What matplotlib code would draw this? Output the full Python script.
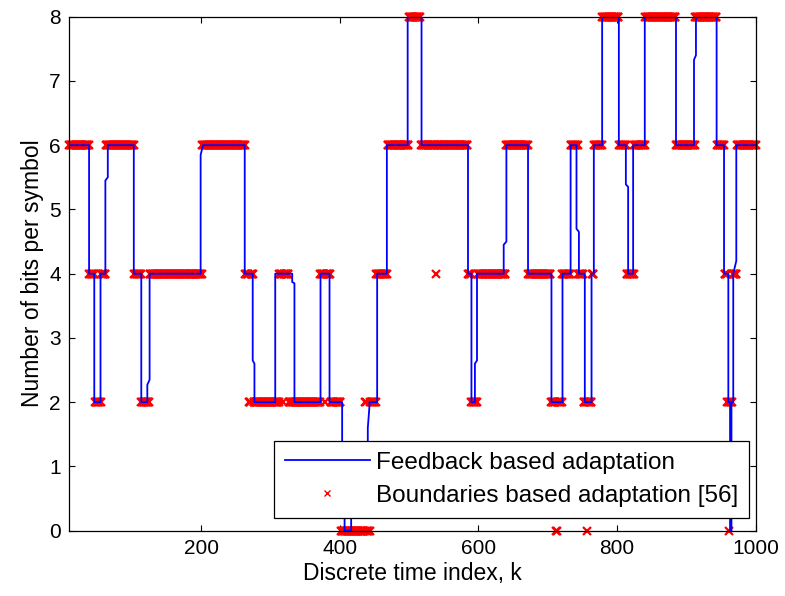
import numpy as np
import matplotlib
matplotlib.use("Agg")
import matplotlib.pyplot as plt
from matplotlib.lines import Line2D

plt.rcParams['font.family'] = ['Liberation Sans', 'DejaVu Sans']

# feedback based adaptation: breakpoints of the bit-loading trace
blue_k = [10, 38.5, 38.5, 46, 46, 55, 55, 62, 62, 65.5, 65.5,
          103, 103, 113.8, 113.8, 122.5, 122.5, 125.8, 125.8,
          199.4, 199.4, 202.9,
          263, 263, 274.5, 274.5, 277, 277,
          307, 307, 331.5, 331.5, 334.7, 334.7,
          372.3, 372.3, 385.3, 385.3,
          403.5, 403.5, 407, 407, 416.5, 416.5, 440.5, 440.5, 443, 443,
          454, 454, 468, 468, 498, 498, 518, 518,
          585, 585, 590, 590, 595, 595, 598, 598,
          636.5, 636.5, 640.4, 640.4, 671.6, 671.6, 705.4, 705.4, 721.3, 721.3, 733, 733,
          741.5, 741.5, 745, 745, 753.5, 753.5, 763.2, 763.2, 766.5, 766.5,
          778.5, 778.5, 802.6, 802.6, 812.7, 812.7, 816, 816, 823.2, 823.2,
          840, 840, 885, 885, 911, 911, 913.8, 913.8, 943.6, 943.6,
          954.3, 954.3, 960.5, 960.5, 963, 963, 965, 965, 967.6, 967.6, 972, 972, 1000]
blue_bits = [6, 6, 4, 4, 2, 2, 4, 4, 5.45, 5.5, 6,
             6, 4, 4, 2, 2, 2.27, 2.35, 4,
             4, 5.85, 6,
             6, 4, 4, 2.65, 2.6, 2,
             2, 4, 4, 3.87, 3.85, 2,
             2, 4, 4, 2,
             2, 1.0, 1.0, 0, 0, 1.0, 1.0, 1.6, 1.95, 2,
             2, 4, 4, 6, 6, 8, 8, 6,
             6, 4, 4, 2, 2, 2.6, 2.65, 4,
             4, 4.45, 4.5, 6, 6, 4, 4, 2, 2, 4, 4, 6,
             6, 4.7, 4.65, 4, 4, 2, 2, 4, 4, 6,
             6, 8, 8, 6, 6, 5.39, 5.35, 4, 4, 6,
             6, 8, 8, 6, 6, 7.33, 7.4, 8, 8, 6,
             6, 4, 4, 2, 2, 0, 0, 2, 2, 4, 4.2, 6, 6]

# boundaries based adaptation [56]: level held from each switch index on
red_switch_k = [10, 39, 47, 56, 63, 104, 114, 126, 202, 264, 269, 272, 276,
                313, 318, 319, 327, 372, 379, 380, 387, 402, 437, 439, 444,
                453, 469, 500, 517, 539, 540, 585, 590, 599, 640, 672, 705,
                712, 714, 721, 733, 744, 752, 757, 758, 764, 767, 779, 803,
                814, 825, 841, 885, 913, 944, 955, 959, 962, 963, 967, 973]
red_bits = [6, 4, 2, 4, 6, 4, 2, 4, 6, 4, 2, 4, 2,
            4, 2, 4, 2, 4, 2, 4, 2, 0, 2, 0, 2,
            4, 6, 8, 6, 4, 6, 4, 2, 4, 6, 4, 2,
            0, 2, 4, 6, 4, 2, 0, 2, 4, 6, 8, 6,
            4, 6, 8, 6, 8, 6, 4, 2, 0, 2, 4, 6]
k_last = 1000

x_ticks = [200, 400, 600, 800, 1000]
y_ticks = [0, 1, 2, 3, 4, 5, 6, 7, 8]
labels = ['Feedback based adaptation', 'Boundaries based adaptation [56]']

# expand the switching points to one decision per time index
red_k = np.arange(red_switch_k[0], k_last + 1)
idx = np.searchsorted(red_switch_k, red_k, side='right') - 1
red_y = np.asarray(red_bits)[idx]

fig = plt.figure(figsize=(7.85, 5.96), dpi=100)
ax = fig.add_axes([0.0883, 0.1096, 0.8744, 0.8624])

ax.plot(red_k, red_y, linestyle='none', marker='x', color='#ff0000',
        markersize=5.5, markeredgewidth=1.6, clip_on=False, zorder=2)
ax.plot(blue_k, blue_bits, color='#0000ff', linewidth=1.3, zorder=3)

ax.set_xlim(10, 1000)
ax.set_ylim(0, 8)
ax.set_xticks(x_ticks)
ax.set_yticks(y_ticks)
ax.tick_params(direction='in', length=4.5, width=0.8, top=True, right=True,
               labelsize=15, pad=6, colors='black')
for s in ax.spines.values():
    s.set_linewidth(0.9)

ax.set_xlabel('Discrete time index, k', fontsize=16.5, labelpad=3)
ax.set_ylabel('Number of bits per symbol', fontsize=16.5, labelpad=4)

# legend proxies (single small cross for the boundaries entry)
handles = [Line2D([], [], color='#0000ff', linewidth=1.3),
           Line2D([], [], linestyle='none', marker='x', color='#ff0000',
                  markersize=5, markeredgewidth=1.0)]
leg = ax.legend(handles, labels, loc='lower right',
                bbox_to_anchor=(0.990, 0.025), borderaxespad=0,
                fontsize=17.5, fancybox=False, framealpha=1,
                edgecolor='black', handlelength=3.5, handletextpad=0.25,
                labelspacing=0.45, borderpad=0.45)
leg.get_frame().set_linewidth(0.9)
leg.set_zorder(5)

fig.savefig('out.png', dpi=100)
